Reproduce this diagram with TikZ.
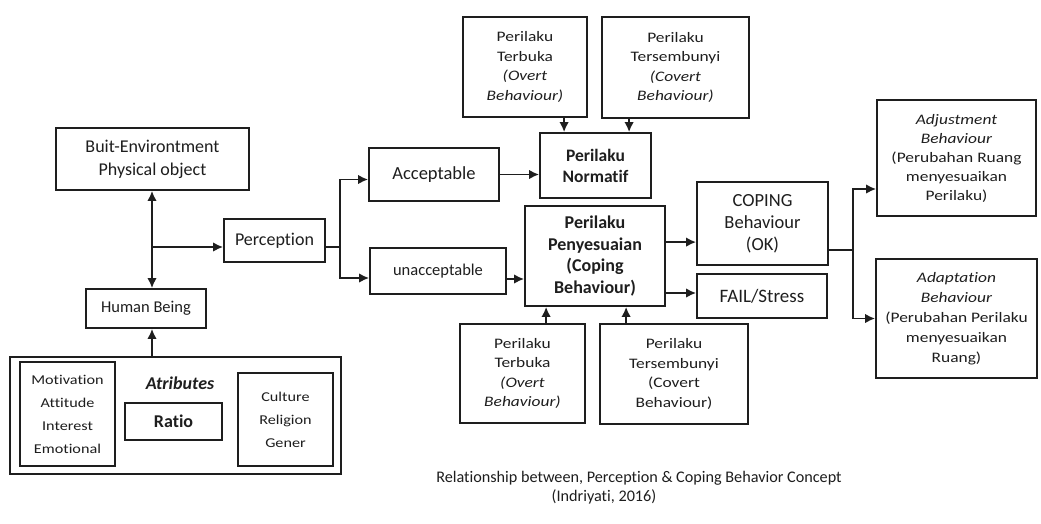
\documentclass[tikz,border=0pt]{standalone}
\usepackage{fontspec}
\setmainfont[Ligatures=NoCommon]{Carlito}
\newfontfamily\wf[FakeStretch=1.2,Ligatures=NoCommon]{Carlito}
\usetikzlibrary{arrows.meta,calc}
\definecolor{ink}{RGB}{30,30,30}
\begin{document}
\begin{tikzpicture}[x=1pt,y=-1pt,
  box/.style={draw=ink, line width=1.8pt, inner sep=0pt, align=center, text=ink},
  arr/.style={draw=ink, line width=1.8pt, -{Latex[length=10pt,width=9.5pt]}},
  ln/.style={draw=ink, line width=1.8pt},
  sm/.style={font=\wf\fontsize{14.5}{19.5}\selectfont},
  lbl/.style={text=ink, inner sep=0pt}
]
\fill[white] (0,0) rectangle (1041,523);
\useasboundingbox (0,0) rectangle (1041,523);

% left part
\node[box, minimum width=193pt, minimum height=62pt, font=\fontsize{18}{23}\selectfont] (env) at (152.5,159) {Buit-Environtment\\Physical object};
\node[box, minimum width=101pt, minimum height=43pt, font=\fontsize{18}{22}\selectfont] (perc) at (274.5,240.5) {Perception};
\node[box, minimum width=120pt, minimum height=39pt, font=\fontsize{16.5}{20}\selectfont] (human) at (146,308.5) {Human Being};
\node[box, minimum width=331pt, minimum height=117pt] (attr) at (175.5,415.5) {};
\node[box, minimum width=95pt, minimum height=104pt, font=\wf\fontsize{13.5}{23}\selectfont] (motiv) at (67.5,414) {Motivation\\Attitude\\Interest\\Emotional};
\node[box, minimum width=97pt, minimum height=37pt, font=\bfseries\fontsize{18}{22}\selectfont] (ratio) at (173.5,421.5) {Ratio};
\node[box, minimum width=95pt, minimum height=93pt, font=\wf\fontsize{13.5}{23}\selectfont] (cult) at (285.5,419.5) {Culture\\Religion\\Gener};
\node[lbl, font=\bfseries\itshape\fontsize{18}{22}\selectfont] (atl) at (180,383) {Atributes};

% middle
\node[box, minimum width=130pt, minimum height=53pt, font=\fontsize{18.5}{22}\selectfont] (acc) at (434,174.5) {Acceptable};
\node[box, minimum width=136pt, minimum height=46pt, font=\fontsize{16.5}{22}\selectfont] (unacc) at (438,271) {unacceptable};
\node[box, minimum width=111pt, minimum height=65pt, font=\bfseries\fontsize{17.5}{21}\selectfont] (norm) at (595.5,165.5) {Perilaku\\Normatif};
\node[box, minimum width=140pt, minimum height=100pt, font=\bfseries\fontsize{18}{21.5}\selectfont] (peny) at (595,256) {Perilaku\\Penyesuaian\\(Coping\\Behaviour)};
\node[box, minimum width=124pt, minimum height=100pt, sm] (tt) at (525,67) {Perilaku\\Terbuka\\\textit{(Overt}\\\textit{Behaviour)}};
\node[box, minimum width=147pt, minimum height=101pt, sm] (ts) at (675.5,67.5) {Perilaku\\Tersembunyi\\\textit{(Covert}\\\textit{Behaviour)}};
\node[box, minimum width=125pt, minimum height=99pt, sm] (bt) at (522.5,373.5) {Perilaku\\Terbuka\\\textit{(Overt}\\\textit{Behaviour)}};
\node[box, minimum width=148pt, minimum height=100pt, sm] (bs) at (674,374) {Perilaku\\Tersembunyi\\(Covert\\Behaviour)};

% right
\node[box, minimum width=131pt, minimum height=83pt, font=\fontsize{18.5}{22}\selectfont] (cop) at (762.5,223.5) {COPING\\Behaviour\\(OK)};
\node[box, minimum width=130pt, minimum height=44pt, font=\fontsize{19}{22}\selectfont] (fail) at (762,296) {FAIL/Stress};
\node[box, minimum width=159pt, minimum height=116pt, font=\wf\fontsize{14.5}{19}\selectfont] (adj) at (956.5,158) {\textit{Adjustment}\\\textit{Behaviour}\\(Perubahan Ruang\\menyesuaikan\\Perilaku)};
\node[box, minimum width=161pt, minimum height=119pt, font=\wf\fontsize{14.5}{20}\selectfont] (adap) at (956.5,318.5) {\textit{Adaptation}\\\textit{Behaviour}\\(Perubahan Perilaku\\menyesuaikan\\Ruang)};

% caption
\node[lbl, font=\fontsize{16.2}{19}\selectfont] (cap1) at (639,478) {Relationship between, Perception \& Coping Behavior Concept};
\node[lbl, font=\fontsize{16.2}{19}\selectfont] (cap2) at (604,497) {(Indriyati, 2016)};

% connectors
\coordinate (j) at (152,247);
\draw[arr] (j) -- (j |- env.south);
\draw[arr] (j) -- (j |- human.north);
\draw[arr] (j) -- (j -| perc.west);
\draw[arr] (j |- attr.north) -- (j |- human.south);
\coordinate (s1) at (340,247);
\draw[ln] (perc.east |- s1) -- (s1);
\draw[arr] (s1) |- ($(acc.west)+(0,5)$);
\draw[arr] (s1) |- ($(unacc.west)+(0,7)$);
\draw[arr] (acc.east) -- (acc.east -| norm.west);
\coordinate (u1) at ($(unacc.east)+(0,8)$);
\draw[arr] (u1) -- (u1 -| peny.west);
\coordinate (n1) at ($(norm.north west)+(25,0)$);
\coordinate (n2) at ($(norm.north west)+(90,0)$);
\draw[arr] (n1 |- tt.south) -- (n1);
\draw[arr] (n2 |- ts.south) -- (n2);
\coordinate (p1) at ($(peny.south west)+(22,0)$);
\coordinate (p2) at ($(peny.south west)+(102,0)$);
\draw[arr] (p1 |- bt.north) -- (p1);
\draw[arr] (p2 |- bs.north) -- (p2);
\coordinate (c1) at ($(peny.north east)+(0,37)$);
\draw[arr] (c1) -- (c1 -| cop.west);
\coordinate (f1) at ($(fail.west)+(0,-3)$);
\draw[arr] (f1 -| peny.east) -- (f1);
\coordinate (c2) at ($(cop.east)+(0,26.5)$);
\coordinate (s2) at (853,250);
\draw[ln] (c2) -- (s2);
\draw[arr] (s2) |- ($(adj.west)+(0,31)$);
\draw[arr] (s2) |- (adap.west);
\end{tikzpicture}
\end{document}
